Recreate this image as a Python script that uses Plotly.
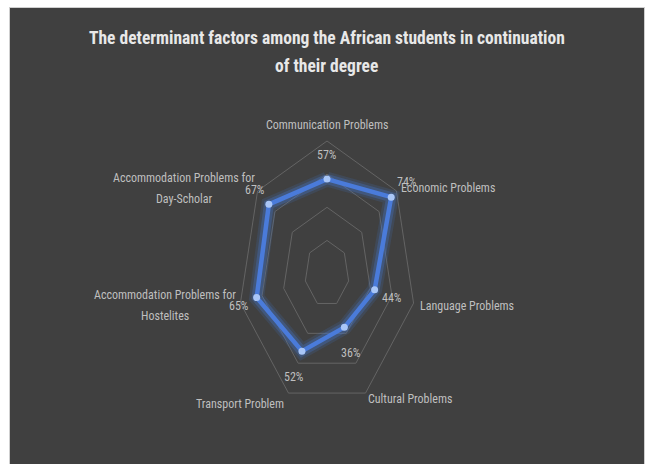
import numpy as np
import plotly.graph_objects as go

# ---- data ----
categories = [
    "Communication Problems",
    "Economic Problems",
    "Language Problems",
    "Cultural Problems",
    "Transport Problem",
    "Accommodation Problems for<br>Hostelites",
    "Accommodation Problems for<br>Day-Scholar",
]
values = [0.57, 0.74, 0.44, 0.36, 0.52, 0.65, 0.67]
ring_levels = [0.2, 0.4, 0.6, 0.8]
title_text = ("The determinant factors among the African students in continuation"
              "<br>of their degree")

# ---- geometry of the radar (clockwise, first category at the top) ----
W, H = 646, 464
cx, cy = 327.0, 273.6          # centre of the radar in pixels
py_unit = 165.75               # pixels per unit, vertical
px_unit = 111.0                # pixels per unit, horizontal (chart is squeezed)
x_range = [-cx / px_unit, (W - cx) / px_unit]
y_range = [-(H - cy) / py_unit, cy / py_unit]

n = len(categories)
theta = np.arange(n) * 2 * np.pi / n


def polar_xy(r):
    r = np.asarray(r, dtype=float)
    return r * np.sin(theta), r * np.cos(theta)


def closed(a):
    return np.append(a, a[0])


FONT = "Roboto Condensed, Roboto, sans-serif"
LABEL_COLOR = "#BFBFBF"
GRID_COLOR = "#646464"
LINE_GAP = 21                  # pixel distance between lines of a wrapped label

fig = go.Figure()

# grid rings
for lvl in ring_levels:
    gx, gy = polar_xy(np.full(n, lvl))
    fig.add_trace(go.Scatter(x=closed(gx), y=closed(gy), mode="lines",
                             line=dict(color=GRID_COLOR, width=1),
                             hoverinfo="skip", showlegend=False))

# series with a soft glow underneath
vx, vy = polar_xy(values)
for w, a in [(15, 0.18), (10, 0.35)]:
    fig.add_trace(go.Scatter(x=closed(vx), y=closed(vy), mode="lines",
                             line=dict(color=f"rgba(68,114,196,{a})", width=w),
                             hoverinfo="skip", showlegend=False))
fig.add_trace(go.Scatter(x=closed(vx), y=closed(vy), mode="lines",
                         line=dict(color="#4A7BDA", width=4.5),
                         hoverinfo="skip", showlegend=False))
fig.add_trace(go.Scatter(x=vx, y=vy, mode="markers",
                         marker=dict(color="#A9C6F7", size=7),
                         hoverinfo="skip", showlegend=False))

# data labels (pixel offsets from each point)
label_shift = [(0, 24), (16, 15), (17, -8), (7, -26), (-8, -26), (-18, -8), (-14, 14)]
for x, y, v, (dx, dy) in zip(vx, vy, values, label_shift):
    fig.add_annotation(x=x, y=y, text=f"{round(v * 100)}%", showarrow=False,
                       xshift=dx, yshift=dy, xanchor="center", yanchor="middle",
                       font=dict(family=FONT, size=12, color=LABEL_COLOR))

# category labels at the outer ring; wrapped labels are laid out line by line
ox, oy = polar_xy(np.full(n, ring_levels[-1]))
cat_place = [
    (0, 16),
    (3, 3),
    (4, -3),
    (0, -6),
    (-2, -11),
    (-3, -2),
    (-1, 2),
]
for x, y, txt, (dx, dy) in zip(ox, oy, categories, cat_place):
    lines = txt.split("<br>")
    if abs(x) < 1e-9:
        xa = "center"
    else:
        xa = "left" if x > 0 else "right"
    # width of the first line decides where the block's centre lies
    block_w = len(lines[0]) * 5.55
    for k, line in enumerate(lines):
        ky = dy + (len(lines) - 1) * LINE_GAP / 2 - k * LINE_GAP
        if len(lines) > 1:
            # centre every line on the block's centre
            cxs = dx + (block_w / 2 if xa == "left" else -block_w / 2)
            fig.add_annotation(x=x, y=y, text=line, showarrow=False,
                               xanchor="center", yanchor="middle",
                               xshift=cxs, yshift=ky,
                               font=dict(family=FONT, size=12, color=LABEL_COLOR))
        else:
            fig.add_annotation(x=x, y=y, text=line, showarrow=False,
                               xanchor=xa, yanchor="middle",
                               xshift=dx, yshift=ky,
                               font=dict(family=FONT, size=12, color=LABEL_COLOR))

# title, one annotation per line
title_y = [38, 66]
for line, ty in zip(title_text.split("<br>"), title_y):
    fig.add_annotation(xref="paper", yref="paper", x=326.7 / W, y=1 - ty / H,
                       text=line, showarrow=False,
                       xanchor="center", yanchor="middle",
                       font=dict(family=FONT, size=17.5, color="#E8E8E8",
                                 weight="bold"))

# dark panel
fig.add_shape(type="rect", xref="paper", yref="paper", layer="below",
              x0=9.5 / W, x1=644.5 / W, y0=-0.01, y1=1 - 7.5 / H,
              fillcolor="#404040", line=dict(color="#CFCFCF", width=1))

fig.update_layout(
    width=W, height=H,
    margin=dict(l=0, r=0, t=0, b=0),
    paper_bgcolor="#FFFFFF",
    plot_bgcolor="rgba(0,0,0,0)",
    showlegend=False,
    xaxis=dict(range=x_range, visible=False, fixedrange=True),
    yaxis=dict(range=y_range, visible=False, fixedrange=True),
)

fig.write_html("out.html")
